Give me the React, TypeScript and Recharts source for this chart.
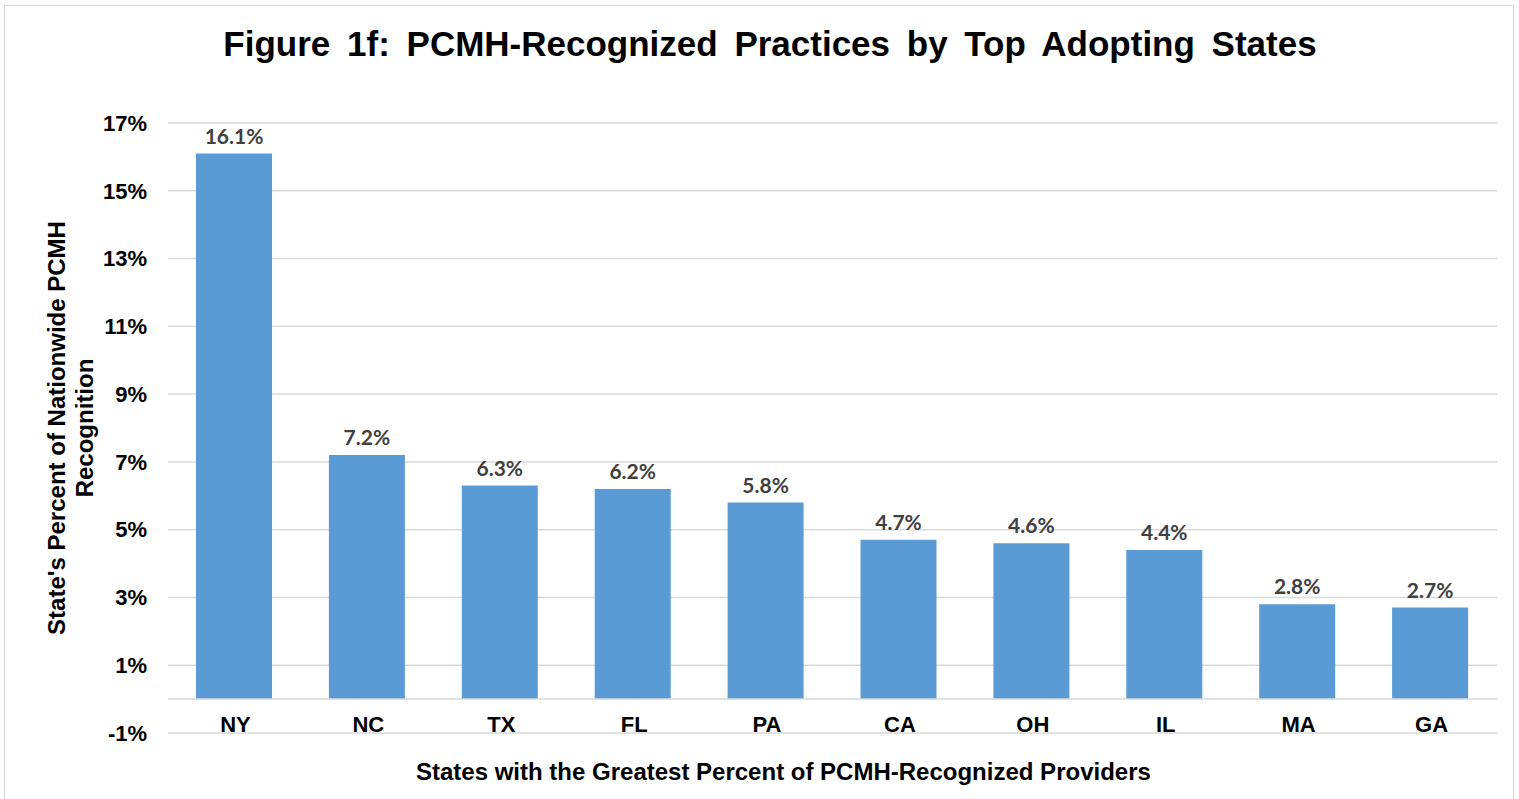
import React from 'react'
import {
  BarChart, Bar, XAxis, YAxis, CartesianGrid, ReferenceLine, LabelList,
} from 'recharts'

const states = ['NY', 'NC', 'TX', 'FL', 'PA', 'CA', 'OH', 'IL', 'MA', 'GA']
const shares = [16.1, 7.2, 6.3, 6.2, 5.8, 4.7, 4.6, 4.4, 2.8, 2.7]
const yTicks = [-1, 1, 3, 5, 7, 9, 11, 13, 15, 17]

const data = states.map((s, i) => ({ state: s, share: shares[i] }))

const FONT = '"Liberation Sans", Arial, sans-serif'

const StateTick = (props: any) => {
  const { x, y, payload } = props
  return (
    <text x={x + 1} y={y - 1} textAnchor="middle" fontFamily={FONT} fontWeight="bold" fontSize={22} fill="#000">
      {payload.value}
    </text>
  )
}

const YTitle = () => (
  <g fontFamily={FONT} fontWeight="bold" fontSize={24} fill="#000">
    <text transform="translate(65, 428) rotate(-90)" textAnchor="middle">
      State's Percent of Nationwide PCMH
    </text>
    <text transform="translate(93, 428) rotate(-90)" textAnchor="middle">
      Recognition
    </text>
  </g>
)

export default function App() {
  return (
    <div style={{ position: 'absolute', left: 0, top: 0, width: 1519, height: 799, background: '#fff', overflow: 'hidden' }}>
      <div style={{ position: 'absolute', left: 4, top: 5, width: 1508, height: 820, border: '1px solid #D9D9D9' }} />
      <div
        style={{
          position: 'absolute', left: 0, width: 1540, top: 24, textAlign: 'center',
          fontFamily: FONT, fontWeight: 'bold', fontSize: 35, wordSpacing: 7, color: '#000',
        }}
      >
        Figure 1f: PCMH-Recognized Practices by Top Adopting States
      </div>
      <div style={{ position: 'absolute', left: 0, top: 0 }}>
        <BarChart
          width={1519}
          height={799}
          data={data}
          margin={{ top: 123, right: 22, bottom: 0, left: 0 }}
        >
          <CartesianGrid vertical={false} stroke="#D9D9D9" strokeWidth={1.5} />
          <XAxis
            dataKey="state"
            axisLine={false}
            tickLine={false}
            tickSize={0}
            tickMargin={0}
            tick={<StateTick />}
            height={66}
          />
          <YAxis
            type="number"
            domain={[-1, 17]}
            ticks={yTicks}
            interval={0}
            width={168}
            axisLine={false}
            tickLine={false}
            tickSize={0}
            tickMargin={21}
            tickFormatter={(v) => `${v}%`}
            tick={{ fontFamily: FONT, fontWeight: 'bold', fontSize: 22, fill: '#000' }}
            label={{ content: () => <YTitle /> }}
          />
          <ReferenceLine y={0} stroke="#D9D9D9" strokeWidth={1.5} />
          <Bar dataKey="share" fill="#5B9BD5" barSize={76} isAnimationActive={false}>
            <LabelList
              dataKey="share"
              position="top"
              offset={10}
              formatter={(v: any) => `${Number(v).toFixed(1)}%`}
              style={{ fontFamily: 'Lato, sans-serif', fontWeight: 'bold', fontSize: 21, fill: '#404040' }}
            />
          </Bar>
        </BarChart>
      </div>
      <div
        style={{
          position: 'absolute', left: 416, top: 758, whiteSpace: 'nowrap',
          fontFamily: FONT, fontWeight: 'bold', fontSize: 24, color: '#000',
        }}
      >
        States with the Greatest Percent of PCMH-Recognized Providers
      </div>
    </div>
  )
}
